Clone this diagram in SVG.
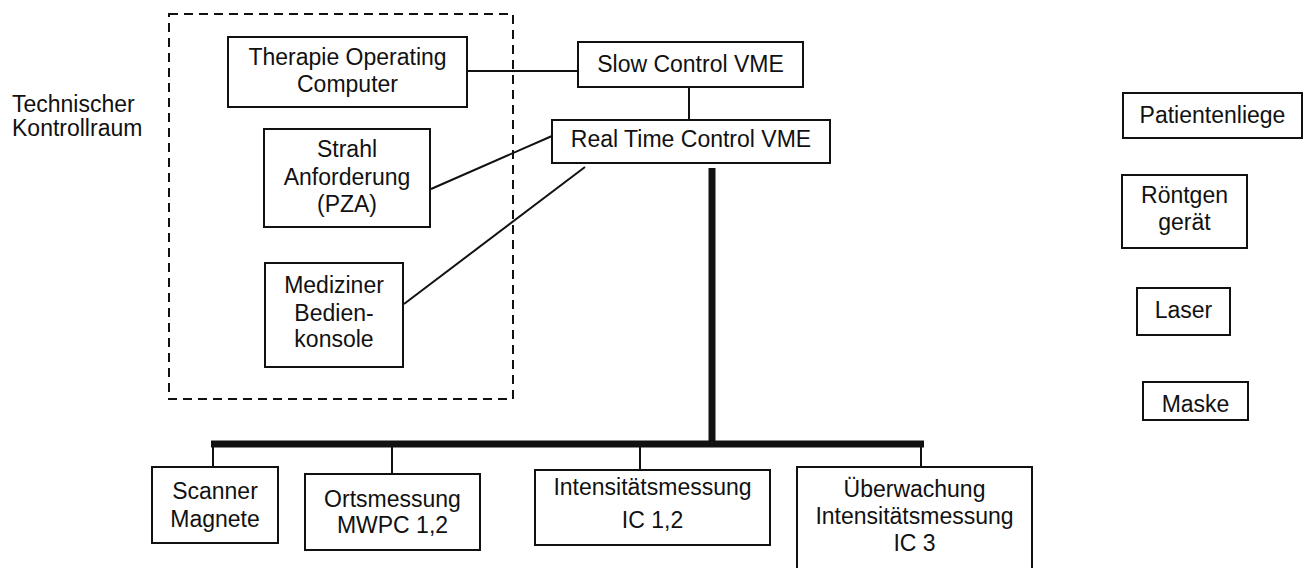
<svg xmlns="http://www.w3.org/2000/svg" width="1305" height="568" viewBox="0 0 1305 568">
<style>
.box{fill:#fff;stroke:#111;stroke-width:2}
.t{font-family:"Liberation Sans",Arial,sans-serif;font-size:23px;fill:#111;text-anchor:middle}
.tl{font-family:"Liberation Sans",Arial,sans-serif;font-size:23px;fill:#111}
.ln{stroke:#111;stroke-width:2;fill:none}
.bus{stroke:#111;stroke-width:7;fill:none}
.dash{fill:none;stroke:#111;stroke-width:2;stroke-dasharray:9 6}
</style>
<rect width="1305" height="568" fill="#fff"/>
<g id="kontrollraum">
<rect class="dash" x="169" y="14" width="344" height="385"/>
<text class="tl" x="12" y="112">Technischer</text>
<text class="tl" x="12" y="136">Kontrollraum</text>
</g>
<g id="connectors">
<line class="ln" x1="467" y1="71" x2="578" y2="71"/>
<line class="ln" x1="689" y1="87" x2="689" y2="120"/>
<line class="ln" x1="431" y1="189" x2="552" y2="136"/>
<line class="ln" x1="404" y1="304" x2="585" y2="167"/>
<line class="bus" x1="712" y1="168" x2="712" y2="444"/>
<line class="bus" x1="211" y1="444" x2="924" y2="444"/>
<line class="ln" x1="213" y1="444" x2="213" y2="467"/>
<line class="ln" x1="392" y1="444" x2="392" y2="474"/>
<line class="ln" x1="640" y1="444" x2="640" y2="470"/>
<line class="ln" x1="921" y1="444" x2="921" y2="467"/>
</g>
<g id="therapie">
<rect class="box" x="228" y="37" width="239" height="70"/>
<text class="t" x="347.5" y="65">Therapie Operating</text>
<text class="t" x="347.5" y="92">Computer</text>
</g>
<g id="slowcontrol">
<rect class="box" x="578" y="42" width="225" height="45"/>
<text class="t" x="690.5" y="72">Slow Control VME</text>
</g>
<g id="realtime">
<rect class="box" x="552" y="120" width="278" height="43"/>
<text class="t" x="691" y="147">Real Time Control VME</text>
</g>
<g id="strahl">
<rect class="box" x="264" y="129" width="166" height="98"/>
<text class="t" x="347" y="157">Strahl</text>
<text class="t" x="347" y="185">Anforderung</text>
<text class="t" x="347" y="212">(PZA)</text>
</g>
<g id="mediziner">
<rect class="box" x="265" y="263" width="138" height="104"/>
<text class="t" x="334" y="293">Mediziner</text>
<text class="t" x="334" y="321">Bedien-</text>
<text class="t" x="334" y="347">konsole</text>
</g>
<g id="scanner">
<rect class="box" x="152" y="467" width="126" height="76"/>
<text class="t" x="215" y="499">Scanner</text>
<text class="t" x="215" y="527">Magnete</text>
</g>
<g id="ortsmessung">
<rect class="box" x="305" y="474" width="175" height="76"/>
<text class="t" x="392.5" y="507">Ortsmessung</text>
<text class="t" x="392.5" y="533">MWPC 1,2</text>
</g>
<g id="intensitaet">
<rect class="box" x="535" y="470" width="235" height="75"/>
<text class="t" x="652.5" y="495">Intensitätsmessung</text>
<text class="t" x="652.5" y="528">IC 1,2</text>
</g>
<g id="ueberwachung">
<rect class="box" x="797" y="467" width="235" height="110"/>
<text class="t" x="914.5" y="497">Überwachung</text>
<text class="t" x="914.5" y="524">Intensitätsmessung</text>
<text class="t" x="914.5" y="551">IC 3</text>
</g>
<g id="patientenliege">
<rect class="box" x="1123" y="93" width="179" height="45"/>
<text class="t" x="1212.5" y="123">Patientenliege</text>
</g>
<g id="roentgen">
<rect class="box" x="1122" y="175" width="125" height="73"/>
<text class="t" x="1184.5" y="203">Röntgen</text>
<text class="t" x="1184.5" y="230">gerät</text>
</g>
<g id="laser">
<rect class="box" x="1137" y="288" width="93" height="47"/>
<text class="t" x="1183.5" y="318">Laser</text>
</g>
<g id="maske">
<rect class="box" x="1143" y="382" width="105" height="38"/>
<text class="t" x="1195.5" y="412">Maske</text>
</g>
</svg>
